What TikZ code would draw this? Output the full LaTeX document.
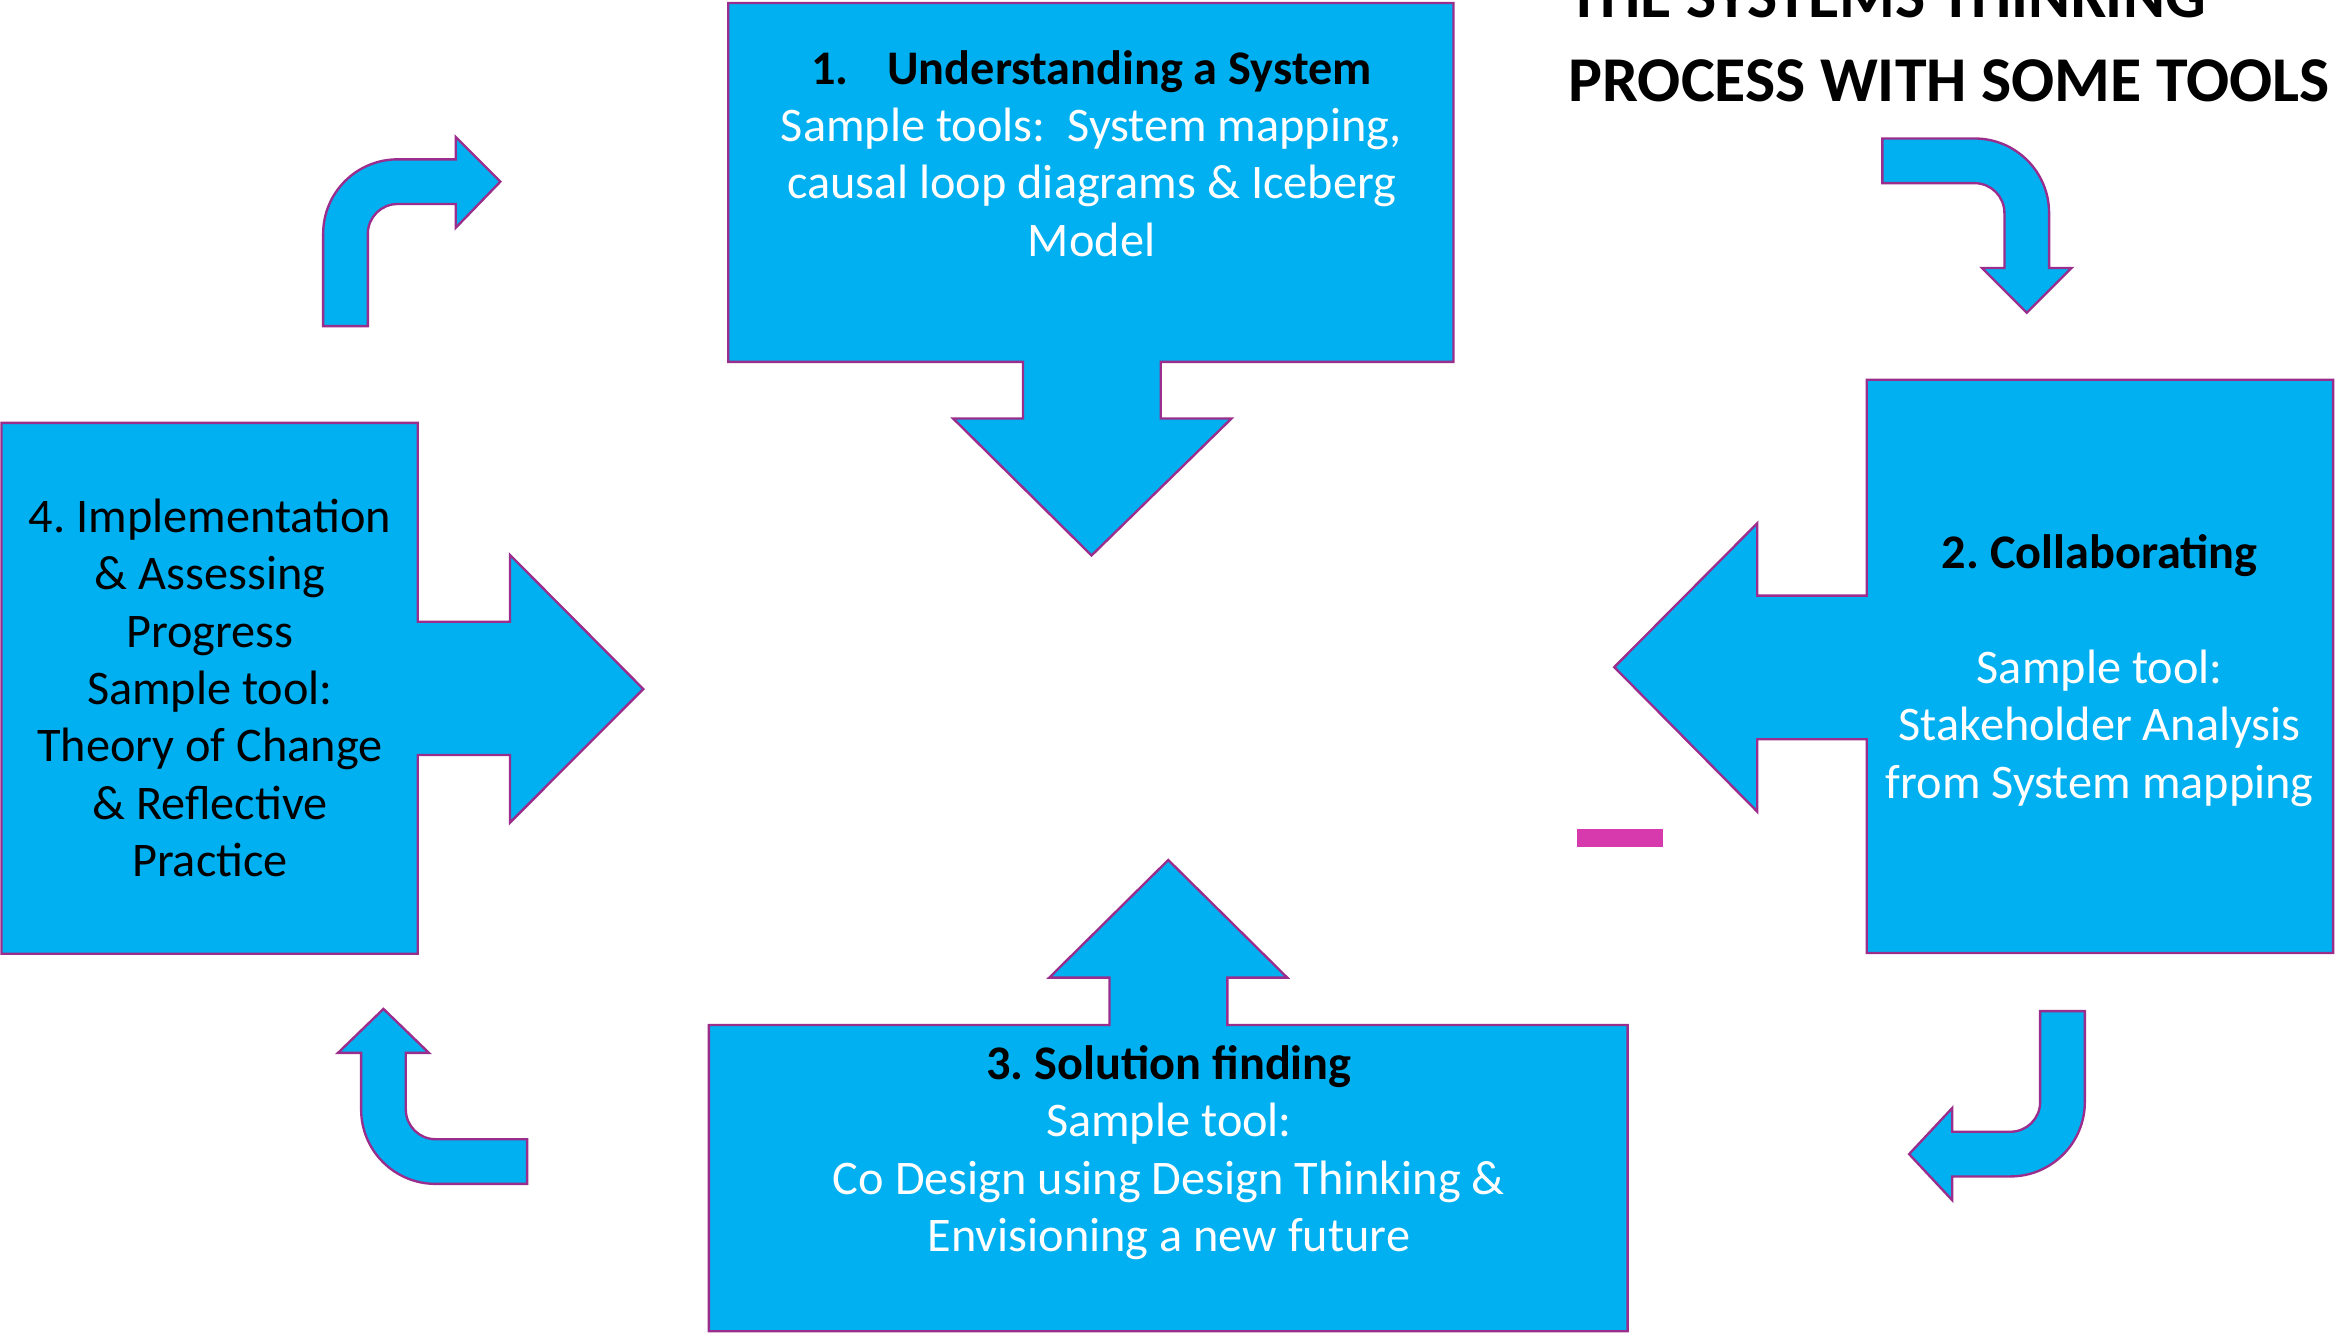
\documentclass[tikz,border=0pt]{standalone}
\usepackage{fontspec}
\setmainfont{Carlito}
\frenchspacing
\definecolor{skyc}{RGB}{0,176,240}
\definecolor{purp}{RGB}{155,45,140}
\definecolor{dashpink}{RGB}{214,58,172}
\begin{document}
\begin{tikzpicture}[x=0.02cm,y=-0.02cm,
  shapebox/.style={fill=skyc, draw=purp, line width=0.9pt, line join=miter},
  txt/.style={anchor=base, inner sep=0pt, font=\fontsize{18.45}{21.9}\selectfont},
  wtxt/.style={txt, text=white},
  btxt/.style={txt, text=black, font=\fontsize{18.45}{21.9}\selectfont\bfseries},
  ttl/.style={anchor=base west, inner sep=0pt, text=black, font=\fontsize{24.4}{32}\selectfont\bfseries}]
\useasboundingbox (0,0) rectangle (1568,895);

% Box 1 with down arrow
\draw[shapebox] (489,2) -- (976,2) -- (976,243) -- (779.5,243) -- (779.5,281) -- (827,281)
  -- (733,373) -- (640,281) -- (687,281) -- (687,243) -- (489,243) -- cycle;
% Box 2 with left arrow
\draw[shapebox] (1253.5,255) -- (1566.7,255) -- (1566.7,640) -- (1253.5,640) -- (1253.5,496.4)
  -- (1180,496.4) -- (1180,545) -- (1084,448) -- (1180,351.4) -- (1180,400) -- (1253.5,400) -- cycle;
% Box 3 with up arrow
\draw[shapebox] (476,688.3) -- (745,688.3) -- (745,656.5) -- (704.6,656.5) -- (784.5,577.5)
  -- (864.4,656.5) -- (824.2,656.5) -- (824.2,688.3) -- (1093,688.3) -- (1093,894) -- (476,894) -- cycle;
% Box 4 with right arrow
\draw[shapebox] (1,284) -- (280.5,284) -- (280.5,417.5) -- (342.5,417.5) -- (342.5,372.7)
  -- (432,462.7) -- (342.5,552.4) -- (342.5,507) -- (280.5,507) -- (280.5,640.5) -- (1,640.5) -- cycle;

% Curved arrows
\draw[shapebox] (217,219) -- (217,157) arc[start angle=180, end angle=270, radius=50]
  -- (306,107) -- (306,92) -- (336,122) -- (306,153) -- (306,137) -- (267,137)
  arc[start angle=270, end angle=180, radius=20] -- (247,219) -- cycle;
\draw[shapebox] (1264,93) -- (1326,93) arc[start angle=270, end angle=360, radius=50]
  -- (1376,180) -- (1391,180) -- (1361,210) -- (1331,180) -- (1346,180) -- (1346,143)
  arc[start angle=0, end angle=-90, radius=20] -- (1264,123) -- cycle;
\draw[shapebox] (1370,679) -- (1400,679) -- (1400,740) arc[start angle=0, end angle=90, radius=50]
  -- (1311,790) -- (1311,806) -- (1282,775) -- (1311,744) -- (1311,760) -- (1350,760)
  arc[start angle=90, end angle=0, radius=20] -- cycle;
\draw[shapebox] (354,765) -- (292.5,765) arc[start angle=90, end angle=180, radius=20]
  -- (272.5,707) -- (288,707) -- (257.5,677.5) -- (227,707) -- (242.5,707) -- (242.5,745)
  arc[start angle=180, end angle=90, radius=50] -- (354,795) -- cycle;

% pink dash
\fill[dashpink] (1059,557) rectangle (1117,569);

% Title
\node[ttl] (title1) at (1053,11.6) {THE SYSTEMS THINKING};
\node[ttl] (title2) at (1053,68.3) {PROCESS WITH SOME TOOLS};

% Box 1 text
\node[btxt] (t1a) at (733,56.5) {1.\hspace{0.52cm}Understanding a System};
\node[wtxt] (t1b) at (733,95) {Sample tools:\ \ System mapping,};
\node[wtxt] (t1c) at (733,133.5) {causal loop diagrams \& Iceberg};
\node[wtxt] (t1d) at (733,172) {Model};

% Box 2 text
\node[btxt] (t2a) at (1410,382) {2. Collaborating};
\node[wtxt] (t2b) at (1410,459) {Sample tool:};
\node[wtxt] (t2c) at (1410,497.5) {Stakeholder Analysis};
\node[wtxt] (t2d) at (1410,536) {from System mapping};

% Box 3 text
\node[btxt] (t3a) at (785,725) {3. Solution finding};
\node[wtxt] (t3b) at (785,763.5) {Sample tool:};
\node[wtxt] (t3c) at (785,802) {Co Design using Design Thinking \&};
\node[wtxt] (t3d) at (785,840.5) {Envisioning a new future};

% Box 4 text
\node[txt] (t4a) at (141,357.5) {4. Implementation};
\node[txt] (t4b) at (141,396) {\& Assessing};
\node[txt] (t4c) at (141,434.5) {Progress};
\node[txt] (t4d) at (141,473) {Sample tool:};
\node[txt] (t4e) at (141,511.5) {Theory of Change};
\node[txt] (t4f) at (141,550) {\& Reflective};
\node[txt] (t4g) at (141,588.5) {Practice};
\end{tikzpicture}
\end{document}
